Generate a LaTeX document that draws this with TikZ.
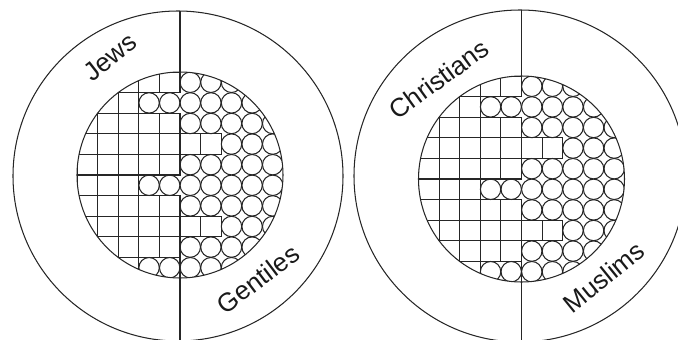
\documentclass[tikz,border=0pt]{standalone}
\usepackage{fontspec}
\setmainfont{Liberation Sans}
\begin{document}
\begin{tikzpicture}[x=1pt,y=-1pt,
  ln/.style={line width=1.05pt,draw=black!85},
  lbl/.style={font=\fontsize{26}{30}\selectfont,text=black!90,inner sep=0pt}]
\useasboundingbox (0,0) rectangle (678,340);
\newcommand\cellgrid{%
  \begin{scope}
    \clip (0,0) circle (103pt);
    \foreach \r/\t in {0/5,1/3,2/5,3/7,4/5,5/3,6/5,7/7,8/5,9/3}{
      \foreach \c in {0,...,9}{
        \pgfmathsetmacro\xa{-103+\c*20.6}
        \pgfmathsetmacro\ya{-103+\r*20.6}
        \ifnum\c<\t
          \draw[ln] (\xa,\ya) rectangle ++(20.6,20.6);
        \else
          \draw[ln] (\xa+10.3,\ya+10.3) circle (10.2pt);
        \fi
      }
    }
  \end{scope}
  \draw[ln] (0,0) circle (103pt);
}
% left diagram
\coordinate (lo) at (178,176);
\coordinate (li) at (180,175);
\draw[ln] (lo) circle (165pt);
\begin{scope}
  \clip (lo) circle (165pt);
  \draw[ln] (180,0) -- (180,72);
  \draw[ln] (180,257.4) -- (180,345);
\end{scope}
\begin{scope}[shift={(180,175)}]
  \cellgrid
\end{scope}
\node[lbl,rotate=38] (jews) at (110,57) {Jews};
\node[lbl,rotate=37] (gent) at (258,279) {Gentiles};
% right diagram
\coordinate (ro) at (520,176);
\coordinate (ri) at (521.5,179);
\draw[ln] (ro) circle (166pt);
\begin{scope}
  \clip (ro) circle (166pt);
  \draw[ln] (521.5,0) -- (521.5,76);
  \draw[ln] (521.5,261.4) -- (521.5,345);
\end{scope}
\begin{scope}[shift={(521.5,179)}]
  \cellgrid
\end{scope}
\node[lbl,rotate=36] (chr) at (439,79) {Christians};
\node[lbl,rotate=39] (mus) at (604,277) {Muslims};
\end{tikzpicture}
\end{document}
